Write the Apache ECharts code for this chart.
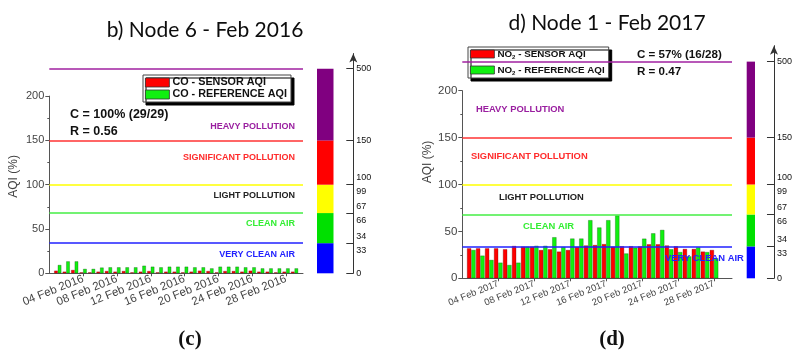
<!DOCTYPE html>
<html><head><meta charset="utf-8">
<script src="https://cdn.jsdelivr.net/npm/echarts@6/dist/echarts.min.js"></script>
<style>html,body{margin:0;padding:0;background:#fff}#c{width:795px;height:352px}</style>
</head><body><div id="c"></div>
<script>
// ---------- data ----------
const daysL = [1,2,3,4,5,6,7,8,9,10,11,12,13,14,15,16,17,18,19,20,21,22,23,24,25,26,27,28,29];
const sensorL = [3.0,1.9,3.8,1.1,1.1,1.9,2.6,1.9,2.6,1.1,1.9,2.6,1.1,1.9,1.9,1.1,1.9,3.0,2.6,1.1,2.6,2.6,1.9,3.0,1.9,1.9,1.1,1.9,1.9];
const referenceL = [9.4,13.5,13.5,5.0,5.0,6.5,6.8,6.8,6.8,6.8,8.6,7.5,6.8,7.5,7.5,7.5,6.8,6.8,5.6,7.5,7.5,7.5,6.8,6.8,5.6,5.6,5.6,5.6,5.6];

const daysR = [1,2,3,4,5,6,7,8,9,10,11,12,13,14,15,16,17,18,19,20,21,22,23,24,25,26,27,28];
const sensorR = [32,32,32,32,31,34.5,33.8,33.8,30.2,31,28.5,30.2,33.5,35,35.5,36.5,33.8,34.2,34.2,34,36.3,36.3,35,34.2,31.3,31.3,28.5,30.2];
const referenceR = [30.2,24.2,19.6,16.7,14.2,16.7,33.8,34.7,34.7,43.8,33.4,42.4,42.4,62,54.2,62,67,26.5,32.7,42.3,48,51.6,31,28,23.4,33,28,21.4];

const tickDays = [4,8,12,16,20,24,28];
const yTicks = [0,50,100,150,200];
const bandEdges = [0,34,68,100,150,231];           // AQI bands on the plot scale
const bandTickLabels = ['0','34\n33','67\n66','100\n99','150','500'];
const zoneNames = ['VERY CLEAN AIR','CLEAN AIR','LIGHT POLLUTION','SIGNIFICANT POLLUTION','HEAVY POLLUTION'];

// ---------- styles ----------
const bandColors = ['#0000ff','#00e000','#ffff00','#ff0000','#800080'];
const lineColors = ['#2020ff','#44ee44','#ffff00','#ff3333','#a020a0'];
const zoneColors = ['#2222ff','#33ee33','#222222','#ff2b2b','#9a1fa0'];

const panels = [
  { year: 2016, days: daysL, sensor: sensorL, ref: referenceL,
    sName: 'CO - SENSOR AQI', rName: 'CO - REFERENCE AQI',
    y0: 273.3, k: 0.886, left: 49.3, right: 303, cbLeft: 317, cbW: 16.5, cbOff: 19.8,
    barW: 3.6, xFont: 11.5, yFont: 11, nameGap: 30, namePad: [0,26,0,0],
    legend: {left: 143, top: 75, font: 10.8, gap: 1, itemH: 9},
    title: {text: 'b) Node 6 - Feb 2016', x: 205, y: 30},
    caption: {text: '(c)', x: 190, y: 340},
    cText: {c: 'C = 100% (29/29)', r: 'R = 0.56', x: 70, yc: 115, yr: 132, font: 12.5},
    zones: {align: 'right', font: 9, pos: [[295,255],[295,224],[295,196],[295,158],[295,127]]}
  },
  { year: 2017, days: daysR, sensor: sensorR, ref: referenceR,
    sName: 'NO2 - SENSOR AQI', rName: 'NO2 - REFERENCE AQI',
    y0: 278.3, k: 0.938, left: 462.3, right: 732, cbLeft: 746.7, cbW: 17.6, cbOff: 19,
    barW: 4.3, xFont: 9.5, yFont: 11.5, nameGap: 29, namePad: [0,0,0,0],
    legend: {left: 468, top: 47, font: 9.8, gap: 5, itemH: 8},
    title: {text: 'd) Node 1 - Feb 2017', x: 607, y: 23.5},
    caption: {text: '(d)', x: 612, y: 340},
    cText: {c: 'C = 57% (16/28)', r: 'R = 0.47', x: 637, yc: 55, yr: 72, font: 11.6},
    zones: {align: 'left', font: 9.4, pos: [[665,258],[523,226],[499,197],[471,156],[476,109]]}
  }
];

const YMAX = 248;
const grid = [], xAxis = [], yAxis = [], series = [], legend = [], graphic = [];
const pad2 = d => (d < 10 ? '0' : '') + d;

panels.forEach((p, pi) => {
  const gi = pi * 3;
  const top = p.y0 - YMAX * p.k;
  const hgt = YMAX * p.k;
  grid.push({left: p.left, top: top, width: p.right - p.left, height: hgt});
  grid.push({left: p.left, top: p.y0 - 200 * p.k, width: p.right - p.left, height: 200 * p.k});
  grid.push({left: p.cbLeft, top: top, width: p.cbW, height: hgt});

  xAxis.push({
    gridIndex: gi, type: 'value', min: 0, max: 30,
    splitLine: {show: false},
    axisLine: {show: true, lineStyle: {color: '#555', width: 1}},
    axisTick: {show: true, length: 3, customValues: tickDays, lineStyle: {color: '#555'}},
    axisLabel: {customValues: tickDays, rotate: 22, margin: 5, fontSize: p.xFont,
      fontFamily: 'Liberation Sans', color: '#444',
      formatter: v => pad2(v) + ' Feb ' + p.year}
  });
  yAxis.push({
    gridIndex: gi, type: 'value', min: 0, max: YMAX,
    axisLine: {show: false}, axisTick: {show: false}, axisLabel: {show: false}, splitLine: {show: false},
    name: 'AQI (%)', nameLocation: 'middle', nameGap: p.nameGap,
    nameTextStyle: {fontSize: 12, fontFamily: 'Liberation Sans', color: '#444', padding: p.namePad}
  });
  xAxis.push({gridIndex: gi + 1, type: 'value', min: 0, max: 30, show: false});
  yAxis.push({
    gridIndex: gi + 1, type: 'value', min: 0, max: 200, interval: 50,
    splitLine: {show: false},
    axisLine: {show: true, lineStyle: {color: '#555'}},
    axisTick: {show: true, length: 4, lineStyle: {color: '#555'}},
    minorTick: {show: true, splitNumber: 2, length: 2, lineStyle: {color: '#555'}},
    axisLabel: {customValues: yTicks, fontSize: p.yFont, fontFamily: 'Liberation Sans', color: '#444', margin: 5}
  });
  xAxis.push({gridIndex: gi + 2, type: 'category', data: ['AQI'], show: false});
  yAxis.push({
    gridIndex: gi + 2, type: 'value', min: 0, max: YMAX, position: 'right', offset: p.cbOff,
    splitLine: {show: false},
    axisLine: {show: true, symbol: ['none', 'arrow'], symbolSize: [6, 9], lineStyle: {color: '#333'}},
    axisTick: {show: true, inside: true, length: 7, customValues: bandEdges, lineStyle: {color: '#333'}},
    axisLabel: {customValues: bandEdges, margin: 3, fontSize: 9, lineHeight: 14,
      fontFamily: 'Liberation Sans', color: '#111',
      formatter: v => bandTickLabels[bandEdges.indexOf(v)]}
  });

  series.push({
    type: 'bar', name: p.sName, xAxisIndex: gi, yAxisIndex: gi,
    data: p.days.map((d, i) => [d, p.sensor[i]]),
    barWidth: p.barW, barGap: '0%',
    itemStyle: {color: '#ff0000', borderColor: 'rgba(90,0,0,0.6)', borderWidth: 0.5},
    markLine: {
      silent: true, symbol: ['none', 'none'], label: {show: false}, animation: false,
      data: bandEdges.slice(1).map((v, i) => ({yAxis: v, lineStyle: {color: lineColors[i], width: 1.5, type: 'solid'}}))
    }
  });
  series.push({
    type: 'bar', name: p.rName, xAxisIndex: gi, yAxisIndex: gi,
    data: p.days.map((d, i) => [d, p.ref[i]]),
    barWidth: p.barW, barGap: '0%',
    itemStyle: {color: '#10f010', borderColor: 'rgba(0,60,0,0.6)', borderWidth: 0.5}
  });
  bandColors.forEach((c, i) => {
    series.push({
      type: 'bar', name: 'band' + pi + '_' + i, xAxisIndex: gi + 2, yAxisIndex: gi + 2,
      stack: 'cb' + pi, barWidth: '100%', silent: true,
      data: [bandEdges[i + 1] - bandEdges[i]],
      itemStyle: {color: c}
    });
  });

  legend.push({
    data: [p.sName, p.rName], orient: 'vertical', left: p.legend.left, top: p.legend.top,
    itemWidth: 24, itemHeight: p.legend.itemH, itemGap: p.legend.gap, padding: [2, 4, 2, 2],
    backgroundColor: '#fff', borderColor: '#444', borderWidth: 1,
    shadowColor: '#000', shadowOffsetX: 3, shadowOffsetY: 3, shadowBlur: 0,
    selectedMode: false, icon: 'rect',
    itemStyle: {borderColor: '#333', borderWidth: 0.8},
    formatter: n => n.replace('NO2', 'NO{sub|2}'),
    textStyle: {fontSize: p.legend.font, fontWeight: 'bold', fontFamily: 'Liberation Sans', color: '#111', padding: [0,0,0,-2],
      rich: {sub: {fontSize: 6, fontWeight: 'bold', verticalAlign: 'bottom', padding: [6,0,0,0]}}}
  });

  graphic.push({type: 'text', x: p.title.x, y: p.title.y, z: 100,
    style: {text: p.title.text, font: '21px Lato', fill: '#0d0d0d', textAlign: 'center', textVerticalAlign: 'middle'}});
  graphic.push({type: 'text', x: p.caption.x, y: p.caption.y, z: 100,
    style: {text: p.caption.text, font: 'bold 21px "Liberation Serif"', fill: '#111', textAlign: 'center', textVerticalAlign: 'middle'}});
  graphic.push({type: 'text', x: p.cText.x, y: p.cText.yc, z: 100,
    style: {text: p.cText.c, font: 'bold ' + p.cText.font + 'px "Liberation Sans"', fill: '#111', textAlign: 'left', textVerticalAlign: 'middle'}});
  graphic.push({type: 'text', x: p.cText.x, y: p.cText.yr, z: 100,
    style: {text: p.cText.r, font: 'bold ' + p.cText.font + 'px "Liberation Sans"', fill: '#111', textAlign: 'left', textVerticalAlign: 'middle'}});
  zoneNames.forEach((z, i) => {
    graphic.push({type: 'text', x: p.zones.pos[i][0], y: p.zones.pos[i][1], z: 100,
      style: {text: z, font: 'bold ' + p.zones.font + 'px "Liberation Sans"', fill: zoneColors[i],
        textAlign: p.zones.align, textVerticalAlign: 'middle'}});
  });
});

const chart = echarts.init(document.getElementById('c'), null, {renderer: 'canvas'});
chart.setOption({
  animation: false,
  backgroundColor: '#fff',
  grid, xAxis, yAxis, series, legend, graphic
});
</script>
</body></html>
